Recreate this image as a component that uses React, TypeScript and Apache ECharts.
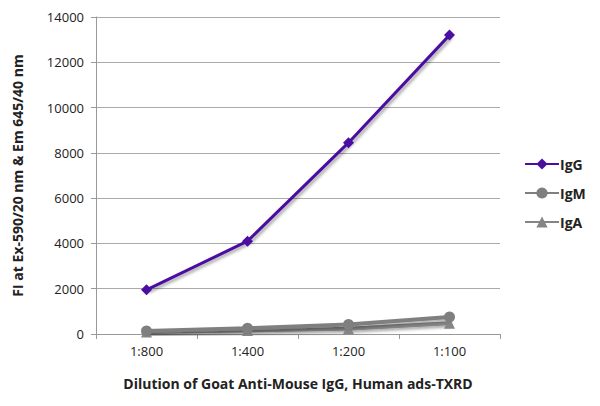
import React, { useEffect, useRef } from "react";
import * as echarts from "echarts";

const categories = ["1:800", "1:400", "1:200", "1:100"];
const igG = [1950, 4100, 8450, 13200];
const igM = [130, 250, 420, 750];
const igA = [90, 150, 230, 470];
const yTicks = { min: 0, max: 14000, interval: 2000 };

export default function App() {
  const ref = useRef<HTMLDivElement>(null);
  useEffect(() => {
    document.body.style.margin = "0";
    if (!ref.current) return;
    const chart = echarts.init(ref.current, undefined, { renderer: "svg" });
    const font = "'Open Sans', 'Noto Sans', sans-serif";
    const shadow = { shadowColor: "rgba(0,0,0,0.35)", shadowBlur: 3, shadowOffsetX: 2, shadowOffsetY: 2 };
    chart.setOption({
      animation: false,
      textStyle: { fontFamily: font },
      grid: { left: 96, right: 100, top: 17, bottom: 72, containLabel: false },
      legend: {
        orient: "vertical",
        left: 519,
        top: 152,
        itemGap: 15,
        itemWidth: 34,
        itemHeight: 14,
        textStyle: { fontFamily: font, fontWeight: "bold", fontSize: 14, color: "#222", padding: [0, 0, 0, -4] },
        data: ["IgG", "IgM", "IgA"],
      },
      xAxis: {
        type: "category",
        data: categories,
        boundaryGap: true,
        name: "Dilution of Goat Anti-Mouse IgG, Human ads-TXRD",
        nameLocation: "middle",
        nameGap: 42,
        nameTextStyle: { fontFamily: font, fontWeight: "bold", fontSize: 14, color: "#222" },
        axisLine: { lineStyle: { color: "#999" } },
        axisTick: { show: true, length: 5, lineStyle: { color: "#999" } },
        axisLabel: { fontFamily: font, fontSize: 13, color: "#222", margin: 10 },
      },
      yAxis: {
        type: "value",
        min: yTicks.min,
        max: yTicks.max,
        interval: yTicks.interval,
        name: "FI at Ex-590/20 nm & Em 645/40 nm",
        nameLocation: "middle",
        nameGap: 72,
        nameTextStyle: { fontFamily: font, fontWeight: "bold", fontSize: 14, color: "#222" },
        axisLine: { show: true, lineStyle: { color: "#999" } },
        axisTick: { show: true, length: 5, inside: false, lineStyle: { color: "#999" } },
        axisLabel: { fontFamily: font, fontSize: 13, color: "#222", margin: 12, formatter: (v: number) => String(v) },
        splitLine: { lineStyle: { color: "#aaa" } },
      },
      series: [
        {
          name: "IgA",
          type: "line",
          data: igA,
          symbol: "triangle",
          symbolSize: 11,
          itemStyle: { color: "#858585" },
          lineStyle: { width: 4, color: "#858585", ...shadow },
          z: 2,
        },
        {
          name: "IgM",
          type: "line",
          data: igM,
          symbol: "circle",
          symbolSize: 11,
          itemStyle: { color: "#7f7f7f" },
          lineStyle: { width: 4, color: "#7f7f7f", ...shadow },
          z: 3,
        },
        {
          name: "IgG",
          type: "line",
          data: igG,
          symbol: "diamond",
          symbolSize: 11,
          itemStyle: { color: "#4b0ea0" },
          lineStyle: { width: 3, color: "#4b0ea0", ...shadow },
          z: 4,
        },
      ],
    });
    return () => chart.dispose();
  }, []);
  return <div ref={ref} style={{ width: 600, height: 406 }} />;
}
